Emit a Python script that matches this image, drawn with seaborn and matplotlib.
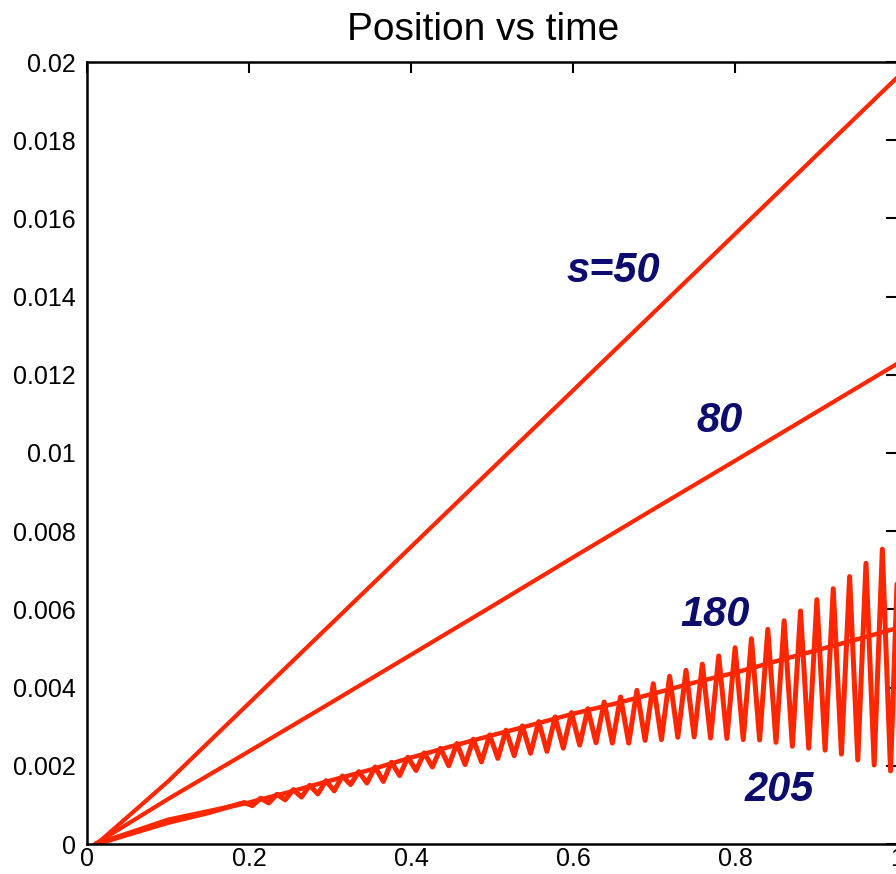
import numpy as np
import pandas as pd
import matplotlib
matplotlib.use('Agg')
import matplotlib.pyplot as plt
import seaborn as sns

# Curve values (time, position)
t50 = [0.012, 0.1, 0.2, 0.3, 0.4, 0.5, 0.6, 0.7, 0.8, 0.9, 1.0]
pos50 = [0, 0.0016, 0.0036, 0.0056, 0.0076, 0.0096, 0.0116, 0.0136, 0.0156, 0.0176, 0.0196]

t80 = [0.01, 0.1, 0.2, 0.3, 0.4, 0.5, 0.6, 0.7, 0.8, 0.9, 1.0]
pos80 = [0, 0.00115, 0.00237, 0.0036, 0.00484, 0.00608, 0.00733, 0.00857, 0.0098, 0.01104, 0.01228]

t180 = [0.01, 0.05, 0.1, 0.15, 0.2, 0.25, 0.3, 0.35, 0.4, 0.45, 0.5,
        0.55, 0.6, 0.65, 0.7, 0.75, 0.8, 0.85, 0.9, 0.95, 1.0]
pos180 = [0, 0.00027, 0.00062, 0.00084, 0.00106, 0.00133, 0.00162, 0.0019, 0.00221, 0.0025, 0.00278,
          0.00305, 0.00333, 0.00358, 0.00385, 0.00413, 0.00438, 0.00467, 0.00495, 0.00523, 0.00552]

# s=205: smooth start, then peaks and troughs of the oscillation
t205_start = [0.012, 0.05, 0.1, 0.15]
pos205_start = [0, 0.00024, 0.00055, 0.0008]

t205_peak = [0.1941, 0.2143, 0.2345, 0.2547, 0.2749, 0.2951, 0.3153, 0.3355, 0.3557, 0.3759,
             0.3961, 0.4163, 0.4365, 0.4567, 0.4769, 0.4971, 0.5173, 0.5375, 0.5577, 0.5779,
             0.5981, 0.6183, 0.6385, 0.6587, 0.6789, 0.6991, 0.7193, 0.7395, 0.7597, 0.7799,
             0.8001, 0.8203, 0.8405, 0.8607, 0.8809, 0.9011, 0.9213, 0.9415, 0.9617, 0.9819, 1.0021]
pos205_peak = [0.00106, 0.00117, 0.00127, 0.00139, 0.0015, 0.00162, 0.00174, 0.00185, 0.00197, 0.00209,
               0.00222, 0.00233, 0.00245, 0.00257, 0.00268, 0.00279, 0.00291, 0.00302, 0.00313, 0.00325,
               0.00336, 0.00346, 0.00363, 0.00376, 0.00393, 0.0041, 0.00429, 0.00444, 0.0046, 0.00481,
               0.00502, 0.00525, 0.00549, 0.00571, 0.00596, 0.00625, 0.00653, 0.00684, 0.00718, 0.00754, 0.0079]

t205_trough = [0.2042, 0.2244, 0.2446, 0.2648, 0.2850, 0.3052, 0.3254, 0.3456, 0.3658, 0.3860,
               0.4062, 0.4264, 0.4466, 0.4668, 0.4870, 0.5072, 0.5274, 0.5476, 0.5678, 0.5880,
               0.6082, 0.6284, 0.6486, 0.6688, 0.6890, 0.7092, 0.7294, 0.7496, 0.7698, 0.7900,
               0.8102, 0.8304, 0.8506, 0.8708, 0.8910, 0.9112, 0.9314, 0.9516, 0.9718, 0.9920]
pos205_trough = [0.00098, 0.00105, 0.00113, 0.0012, 0.00128, 0.00136, 0.00152, 0.00156, 0.0016, 0.00175,
                 0.00188, 0.00197, 0.002, 0.00203, 0.0021, 0.00219, 0.00226, 0.00232, 0.00237, 0.00245,
                 0.00253, 0.00259, 0.00258, 0.00258, 0.00265, 0.00267, 0.00273, 0.00274, 0.00271, 0.0027,
                 0.00267, 0.00266, 0.0026, 0.0025, 0.00245, 0.0024, 0.0023, 0.00215, 0.00202, 0.00187]

yticks = [0, 0.002, 0.004, 0.006, 0.008, 0.01, 0.012, 0.014, 0.016, 0.018, 0.02]
ytick_labels = ['0', '0.002', '0.004', '0.006', '0.008', '0.01', '0.012', '0.014', '0.016', '0.018', '0.02']
xticks = [0, 0.2, 0.4, 0.6, 0.8, 1.0]
xtick_labels = ['0', '0.2', '0.4', '0.6', '0.8', '1']

# build the 205 series in time order
df205 = pd.DataFrame({'t': t205_start + t205_peak + t205_trough,
                      'pos': pos205_start + pos205_peak + pos205_trough}).sort_values('t')

sns.set_style('white')
plt.rcParams['font.family'] = ['Liberation Sans', 'DejaVu Sans']

fig = plt.figure(figsize=(8.96, 8.74), dpi=100)
ax = fig.add_axes([87 / 896, 30 / 874, 810 / 896, 782 / 874])

red = '#ff2600'
sns.lineplot(x=t50, y=pos50, ax=ax, color=red, lw=3.0, sort=False, estimator=None)
sns.lineplot(x=t80, y=pos80, ax=ax, color=red, lw=3.0, sort=False, estimator=None)
sns.lineplot(x=t180, y=pos180, ax=ax, color=red, lw=3.2, sort=False, estimator=None)
sns.lineplot(x=df205['t'].values, y=df205['pos'].values, ax=ax, color=red, lw=3.6, sort=False, estimator=None)

ax.set_xlim(0, 1)
ax.set_ylim(0, 0.02)
ax.set_xticks(xticks)
ax.set_xticklabels(xtick_labels)
ax.set_yticks(yticks)
ax.set_yticklabels(ytick_labels)
ax.tick_params(direction='in', length=8, width=1.5, top=True, right=True,
               labelsize=18, colors='black')
ax.tick_params(axis='y', pad=8)
ax.tick_params(axis='x', pad=2)
for sp in ax.spines.values():
    sp.set_color('black')
    sp.set_linewidth(1.8)

ax.set_title('Position vs time', fontsize=28, pad=16, color='black', x=(483 - 87) / 810)

# curve labels
navy = '#0c0c6e'
lab = dict(color=navy, fontsize=30, fontweight='bold', fontstyle='italic', ha='left', va='baseline')
ax.text(0.592, 0.01437, 's=50', **lab)
ax.text(0.752, 0.01054, '80', **lab)
ax.text(0.733, 0.00558, '180', **lab)
ax.text(0.812, 0.0011, '205', **lab)

fig.savefig('out.png', dpi=100)
